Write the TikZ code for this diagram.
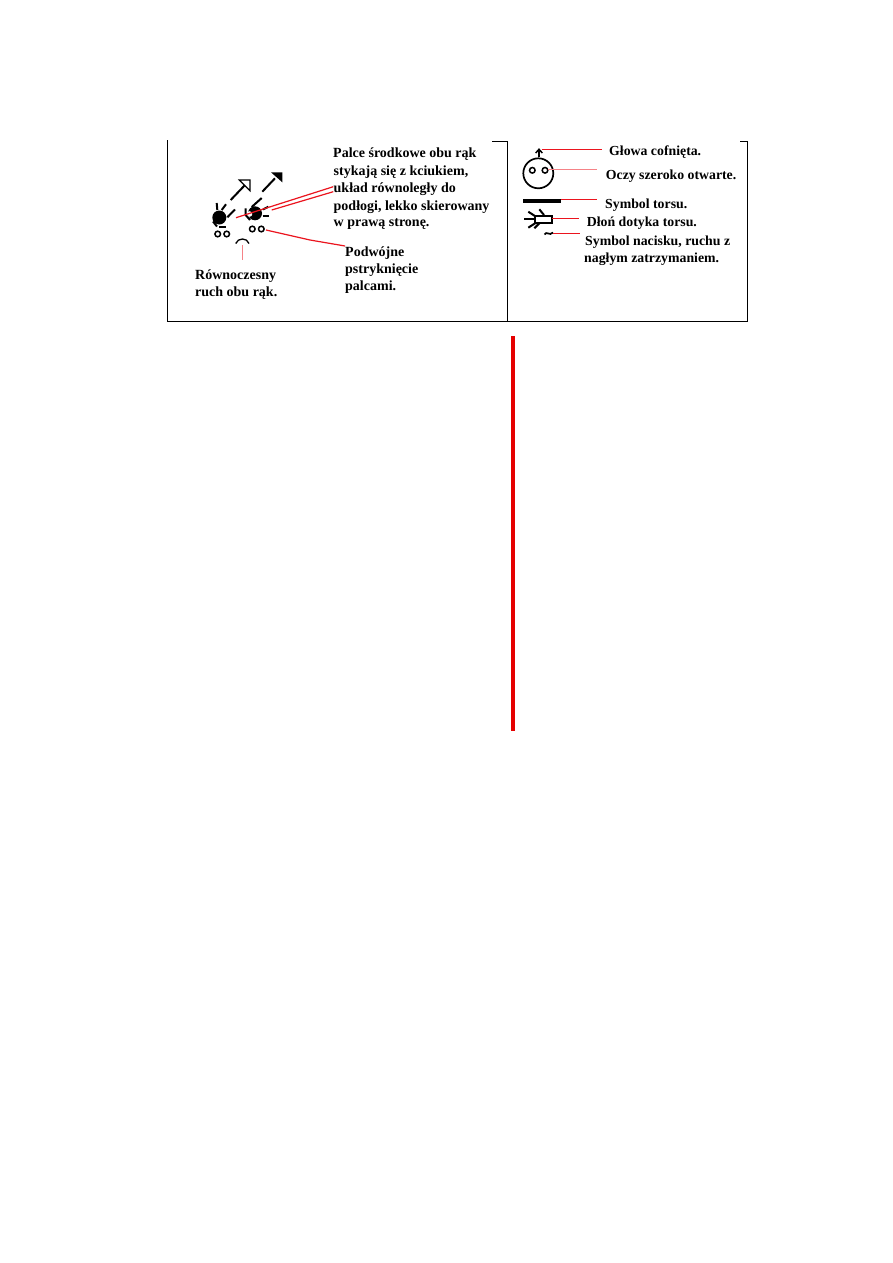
\documentclass[tikz,border=0pt]{standalone}
\usepackage{fontspec}
\setmainfont{Liberation Serif}
\usetikzlibrary{arrows.meta}
\definecolor{leader}{RGB}{235,20,30}
\definecolor{leaderpale}{RGB}{245,130,135}
\tikzset{
  frameline/.style={line width=1pt,black},
  ink/.style={line width=2pt,black},
  leadline/.style={line width=1.2pt,leader},
  paleline/.style={line width=1.2pt,leaderpale},
  caption/.style={anchor=base west,inner sep=0pt,font=\fontsize{14}{16}\selectfont\bfseries},
  sidecaption/.style={anchor=base west,inner sep=0pt,font=\fontsize{13.8}{16}\selectfont\bfseries},
  fingerdot/.style={circle,draw=black,line width=1.5pt,fill=white,minimum size=5.6pt,inner sep=0pt},
}
\begin{document}
\begin{tikzpicture}[x=1pt,y=-1pt]
\useasboundingbox (0,0) rectangle (893,1263);
\fill[white] (0,0) rectangle (893,1263);

% table frame
\draw[frameline] (167.5,140) -- (167.5,321) -- (747.5,321) -- (747.5,141) -- (740,141);
\draw[frameline] (507.5,321) -- (507.5,141) -- (492,141);
% red margin bar
\fill[red!90!black] (511.2,336) rectangle (515,731);

% left hand: circle, ticks and white-headed arrow
\fill[black] (219.3,217.5) circle (7);
\node[fingerdot] (d1) at (217.7,234) {};
\node[fingerdot] (d2) at (226.7,234) {};
\draw[ink] (216.7,203) -- (217.3,210);
\draw[ink] (221.7,210) -- (226,204.3);
\draw[ink] (213,221.5) -- (217,226.5);
\draw[ink] (219.3,226.7) -- (226,226.7);
\draw[ink] (227.3,217.3) -- (235,209.5);
\draw[ink] (230.7,200) -- (245,185);
\draw[line width=1.2pt,black,fill=white] (239.3,180) -- (250,180) -- (250,190.7) -- cycle;

% right hand: circle, ticks and black-headed arrow
\fill[black] (255,213.3) circle (7);
\fill[white] (249.5,214) circle (2.8);
\node[fingerdot] (d3) at (252.3,229) {};
\node[fingerdot] (d4) at (261.3,229) {};
\draw[ink] (245.7,208.3) -- (245.7,215) -- (250,220);
\draw[ink] (251.7,207) -- (261.7,198);
\draw[ink] (263,209.5) -- (268.3,206.7);
\draw[ink] (262.7,215.7) -- (269,215.7);
\draw[ink] (262.3,191.7) -- (275,178.3);
\fill[black] (271,172.3) -- (282.3,172.3) -- (282.3,182.3) -- cycle;

% simultaneity arc
\draw[line width=1.3pt,black] (235.7,243.5) .. controls (238,237.5) and (247,237.5) .. (249,243.5);

% caption texts, left cell
\node[caption] (t1) at (333,157.3) {Palce środkowe obu rąk};
\node[caption] (t2) at (333.5,175) {stykają się z kciukiem,};
\node[caption] (t3) at (333.5,192.3) {układ równoległy do};
\node[caption] (t4) at (333.5,210) {podłogi, lekko skierowany};
\node[caption] (t5) at (333.5,226.7) {w prawą stronę.};
\node[caption] (t6) at (345,256.7) {Podwójne};
\node[caption] (t7) at (345,273.3) {pstryknięcie};
\node[caption] (t8) at (345,290.7) {palcami.};
\node[caption] (t9) at (195,279.3) {Równoczesny};
\node[caption] (t10) at (195,296.7) {ruch obu rąk.};

% leader ends, left cell
\coordinate (a1) at (236,217.7);
\coordinate (a2) at (333.3,186.7);
\coordinate (b1) at (271.7,210);
\coordinate (b2) at (333.3,191.7);
\coordinate (c1) at (266,230);
\coordinate (c2) at (310,240);
\coordinate (c3) at (345,246);
\coordinate (e1) at (242.3,245);
\coordinate (e2) at (242.3,260);
\draw[leadline] (a1) -- (a2);
\draw[leadline] (b1) -- (b2);
\draw[leadline] (c1) -- (c2) -- (c3);
\draw[paleline] (e1) -- (e2);

% head, eyes and arrow, right cell
\draw[line width=1.7pt,black] (538.3,173.3) circle (15);
\node[fingerdot] (e3) at (532.3,170.3) {};
\node[fingerdot] (e4) at (545,170.3) {};
\draw[line width=1.5pt,black] (539,157) -- (539,150);
\draw[line width=1.5pt,black] (535.7,153) -- (539,149.3) -- (542.3,153);

% torso bar
\fill[black] (522.7,199) rectangle (561,202.5);

% touching hand
\draw[line width=1.7pt,black] (535,216) rectangle (551.7,223.3);
\draw[ink] (524,219.3) -- (535,219.3);
\draw[ink] (528.3,211.7) -- (536,216.7);
\draw[ink] (539.3,209.3) -- (544,215);
\draw[ink] (528.3,227.7) -- (536,222.7);
\draw[ink] (534.3,228.3) -- (539.3,223.3);

% pressure tilde
\draw[line width=1.7pt,black] (544.5,234.5) .. controls (546.5,230.5) and (549.5,236.5) .. (553,232.5);

% caption texts, right cell
\node[sidecaption] (r1) at (609,155) {Głowa cofnięta.};
\node[sidecaption] (r2) at (605.7,179.3) {Oczy szeroko otwarte.};
\node[sidecaption] (r3) at (605,208.3) {Symbol torsu.};
\node[sidecaption] (r4) at (586.7,226.7) {Dłoń dotyka torsu.};
\node[sidecaption] (r5) at (585,245) {Symbol nacisku, ruchu z};
\node[sidecaption] (r6) at (584,262.3) {nagłym zatrzymaniem.};

% leader ends, right cell
\coordinate (f1) at (541.7,149.3);
\coordinate (f2) at (601.7,149.3);
\coordinate (g1) at (548.3,169.3);
\coordinate (g2) at (596.7,169.3);
\coordinate (h1) at (561,199.3);
\coordinate (h2) at (597.3,199.3);
\coordinate (i1) at (551.7,218.3);
\coordinate (i2) at (579.3,218.3);
\coordinate (j1) at (553.3,233.3);
\coordinate (j2) at (580,233.3);
\draw[leadline] (f1) -- (f2);
\draw[paleline] (g1) -- (g2);
\draw[leadline] (h1) -- (h2);
\draw[leadline] (i1) -- (i2);
\draw[leadline] (j1) -- (j2);
\end{tikzpicture}
\end{document}
